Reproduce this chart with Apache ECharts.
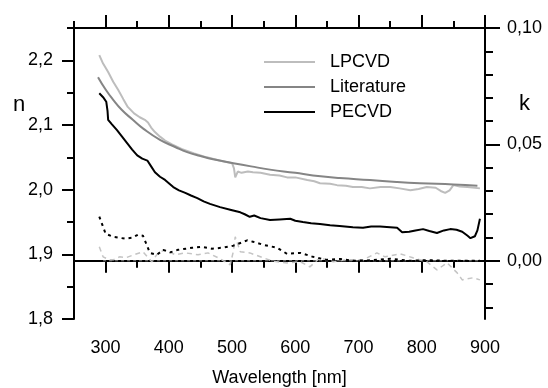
<!DOCTYPE html>
<html>
<head>
<meta charset="utf-8">
<script src="https://cdn.jsdelivr.net/npm/echarts@6/dist/echarts.min.js"></script>
<style>
  html, body { margin: 0; padding: 0; background: #fff; }
  #chart { width: 548px; height: 388px; }
</style>
</head>
<body>
<div id="chart"></div>
<script>
// n curves (left axis)
var lpcvdNWl = [290, 296, 304, 312, 320, 328, 335, 345, 354, 362, 367, 372, 378, 386, 394, 405, 420, 440, 460, 480, 500, 503, 505, 509, 515, 525, 533, 545, 560, 575, 587, 600, 619, 630, 639, 655, 666, 680, 691, 705, 718, 735, 750, 765, 782, 795, 808, 822, 830, 837, 844, 850, 860, 872, 892];
var lpcvdN = [2.208, 2.195, 2.182, 2.167, 2.154, 2.140, 2.128, 2.118, 2.112, 2.108, 2.104, 2.096, 2.089, 2.082, 2.076, 2.070, 2.063, 2.056, 2.050, 2.045, 2.041, 2.033, 2.019, 2.028, 2.026, 2.028, 2.027, 2.026, 2.023, 2.022, 2.019, 2.019, 2.015, 2.013, 2.010, 2.009, 2.007, 2.006, 2.004, 2.004, 2.002, 2.004, 2.004, 2.002, 1.999, 2.001, 2.004, 2.003, 1.998, 1.995, 1.999, 2.007, 2.005, 2.004, 2.002];

var litNWl = [288, 300, 312, 325, 343, 360, 386, 410, 429, 450, 470, 502, 530, 560, 600, 628, 670, 718, 760, 797, 850, 888];
var litN = [2.174, 2.155, 2.139, 2.124, 2.108, 2.094, 2.077, 2.066, 2.058, 2.052, 2.047, 2.041, 2.036, 2.031, 2.026, 2.022, 2.018, 2.015, 2.012, 2.010, 2.008, 2.006];

var pecvdNWl = [290, 296, 301, 303, 304, 310, 318, 326, 334, 342, 350, 358, 366, 372, 378, 386, 394, 400, 407, 416, 426, 435, 445, 455, 465, 481, 497, 513, 520, 528, 535, 545, 560, 575, 592, 600, 612, 625, 639, 655, 670, 691, 707, 720, 734, 750, 761, 769, 780, 790, 802, 812, 824, 835, 845, 855, 864, 872, 877, 884, 888, 892];
var pecvdN = [2.149, 2.143, 2.136, 2.122, 2.108, 2.101, 2.092, 2.082, 2.072, 2.062, 2.053, 2.048, 2.045, 2.036, 2.027, 2.020, 2.015, 2.010, 2.004, 1.999, 1.995, 1.991, 1.987, 1.982, 1.978, 1.973, 1.969, 1.965, 1.962, 1.958, 1.960, 1.956, 1.953, 1.954, 1.955, 1.952, 1.950, 1.948, 1.947, 1.945, 1.944, 1.942, 1.941, 1.943, 1.943, 1.942, 1.941, 1.934, 1.935, 1.937, 1.939, 1.936, 1.933, 1.937, 1.939, 1.938, 1.935, 1.929, 1.925, 1.928, 1.937, 1.955];

// k curves (right axis)
var lpcvdKWl = [290, 296, 305, 312, 322, 332, 345, 359, 373, 383, 394, 410, 426, 446, 462, 478, 497, 502, 505, 513, 528, 549, 565, 587, 608, 623, 639, 660, 682, 707, 729, 742, 766, 786, 808, 824, 840, 856, 864, 881, 892];
var lpcvdK = [0.0060, 0.0017, 0.0005, 0.0004, 0.0017, 0.0013, 0.0026, 0.0039, -0.0004, 0.0034, 0.0047, 0.0026, 0.0034, 0.0026, 0.0034, 0.0013, -0.0017, 0.0040, 0.0103, 0.0039, 0.0034, 0.0013, -0.0002, -0.0009, -0.0004, -0.0026, 0.0013, -0.0004, 0.0004, 0.0004, 0.0034, 0.0017, 0.0030, 0.0013, -0.0004, -0.0039, -0.0009, -0.0052, -0.0082, -0.0073, -0.0082];

var pecvdKWl = [290, 300, 312, 331, 342, 351, 359, 370, 381, 391, 402, 414, 437, 452, 468, 484, 502, 524, 533, 549, 571, 587, 608, 628, 650, 671, 691, 720, 750, 780, 810, 840, 892];
var pecvdK = [0.0190, 0.0116, 0.0103, 0.0095, 0.0099, 0.0112, 0.0108, 0.0034, 0.0026, 0.0047, 0.0036, 0.0047, 0.0056, 0.0060, 0.0052, 0.0056, 0.0065, 0.0088, 0.0082, 0.0069, 0.0056, 0.0030, 0.0034, 0.0017, 0.0004, 0.0008, 0.0000, 0.0002, 0.0009, 0.0000, 0.0003, 0.0000, 0.0000];

var litKWl = [296, 892];
var litK = [0, 0];

// axis ticks
var xMajor = [300, 400, 500, 600, 700, 800, 900];
var xMinor = [250, 350, 450, 550, 650, 750, 850];
var nMajor = [1.8, 1.9, 2.0, 2.1, 2.2];
var nMinor = [1.85, 1.95, 2.05, 2.15, 2.25];
var kMajor = [0, 0.05, 0.1];
var kMinor = [-0.02, -0.01, 0.01, 0.02, 0.03, 0.04, 0.06, 0.07, 0.08, 0.09];

function zip(a, b) {
  return a.map(function (v, i) { return [v, b[i]]; });
}

var FONT = 'Liberation Sans, Arial, sans-serif';
var tickLine = { color: '#000', width: 2 };

function xAx(pos, ticks, len, withLine, withLabel) {
  var ax = {
    type: 'value', position: pos, min: 250, max: 900,
    axisLine: { show: withLine, lineStyle: tickLine },
    axisTick: { show: true, inside: false, length: len, customValues: ticks, lineStyle: tickLine },
    axisLabel: { show: withLabel, customValues: ticks, margin: 20, fontSize: 18, fontFamily: FONT, color: '#000' },
    splitLine: { show: false }
  };
  return ax;
}

function yAx(pos, min, max, ticks, len, withLine, withLabel, digits, margin) {
  return {
    type: 'value', position: pos, min: min, max: max,
    axisLine: { show: withLine, lineStyle: tickLine },
    axisTick: { show: true, inside: false, length: len, customValues: ticks, lineStyle: tickLine },
    axisLabel: {
      show: withLabel, customValues: ticks, margin: margin, fontSize: 18, fontFamily: FONT, color: '#000',
      formatter: function (v) { return v.toFixed(digits).replace('.', ','); }
    },
    splitLine: { show: false }
  };
}

var xMain = xAx('bottom', xMajor, 12, true, true);
xMain.name = 'Wavelength [nm]';
xMain.nameLocation = 'middle';
xMain.nameGap = 50;
xMain.nameTextStyle = { fontSize: 18, fontFamily: FONT, color: '#000' };

var chart = echarts.init(document.getElementById('chart'));
var option = {
  animation: false,
  backgroundColor: '#fff',
  grid: { left: 74, right: 63, top: 28, bottom: 69, outerBoundsMode: 'none', containLabel: false },
  legend: {
    orient: 'vertical', left: 264, top: 53, padding: 0,
    icon: 'rect', itemWidth: 51, itemHeight: 2, itemGap: 7,
    data: ['LPCVD', 'Literature', 'PECVD'],
    textStyle: { fontSize: 18, lineHeight: 18, fontFamily: FONT, color: '#000', padding: [0, 0, 0, 10] }
  },
  graphic: [
    { type: 'text', left: 13, top: 94, style: { text: 'n', font: '22px Liberation Sans, Arial, sans-serif', fill: '#000' } },
    { type: 'text', left: 519, top: 93, style: { text: 'k', font: '22px Liberation Sans, Arial, sans-serif', fill: '#000' } }
  ],
  xAxis: [
    xMain,
    xAx('bottom', xMinor, 7, false, false),
    xAx('top', xMajor, 13, true, false),
    xAx('top', xMinor, 7, false, false)
  ],
  yAxis: [
    yAx('left', 1.8, 2.25, nMajor, 12, true, true, 1, 21),
    yAx('left', 1.8, 2.25, nMinor, 7, false, false, 1, 21),
    yAx('right', -0.025, 0.1, kMajor, 15, true, true, 2, 22),
    yAx('right', -0.025, 0.1, kMinor, 8, false, false, 2, 22)
  ],
  series: [
    { name: 'LPCVD', type: 'line', symbol: 'none', data: zip(lpcvdNWl, lpcvdN),
      lineStyle: { color: '#bdbdbd', width: 2 }, itemStyle: { color: '#bdbdbd' } },
    { name: 'Literature', type: 'line', symbol: 'none', data: zip(litNWl, litN), smooth: true,
      lineStyle: { color: '#858585', width: 2 }, itemStyle: { color: '#858585' } },
    { name: 'PECVD', type: 'line', symbol: 'none', data: zip(pecvdNWl, pecvdN),
      lineStyle: { color: '#000', width: 2 }, itemStyle: { color: '#000' } },
    { name: 'LPCVD k', type: 'line', symbol: 'none', yAxisIndex: 2, data: zip(lpcvdKWl, lpcvdK),
      lineStyle: { color: '#c4c4c4', width: 1.5, type: [5, 4] } },
    { name: 'Literature k', type: 'line', symbol: 'none', yAxisIndex: 2, data: zip(litKWl, litK),
      lineStyle: { color: '#8a8a8a', width: 1, type: [3, 3] } },
    { name: 'PECVD k', type: 'line', symbol: 'none', yAxisIndex: 2, data: zip(pecvdKWl, pecvdK),
      lineStyle: { color: '#000', width: 2, type: [3, 4] } }
  ]
};
chart.setOption(option);
</script>
</body>
</html>
